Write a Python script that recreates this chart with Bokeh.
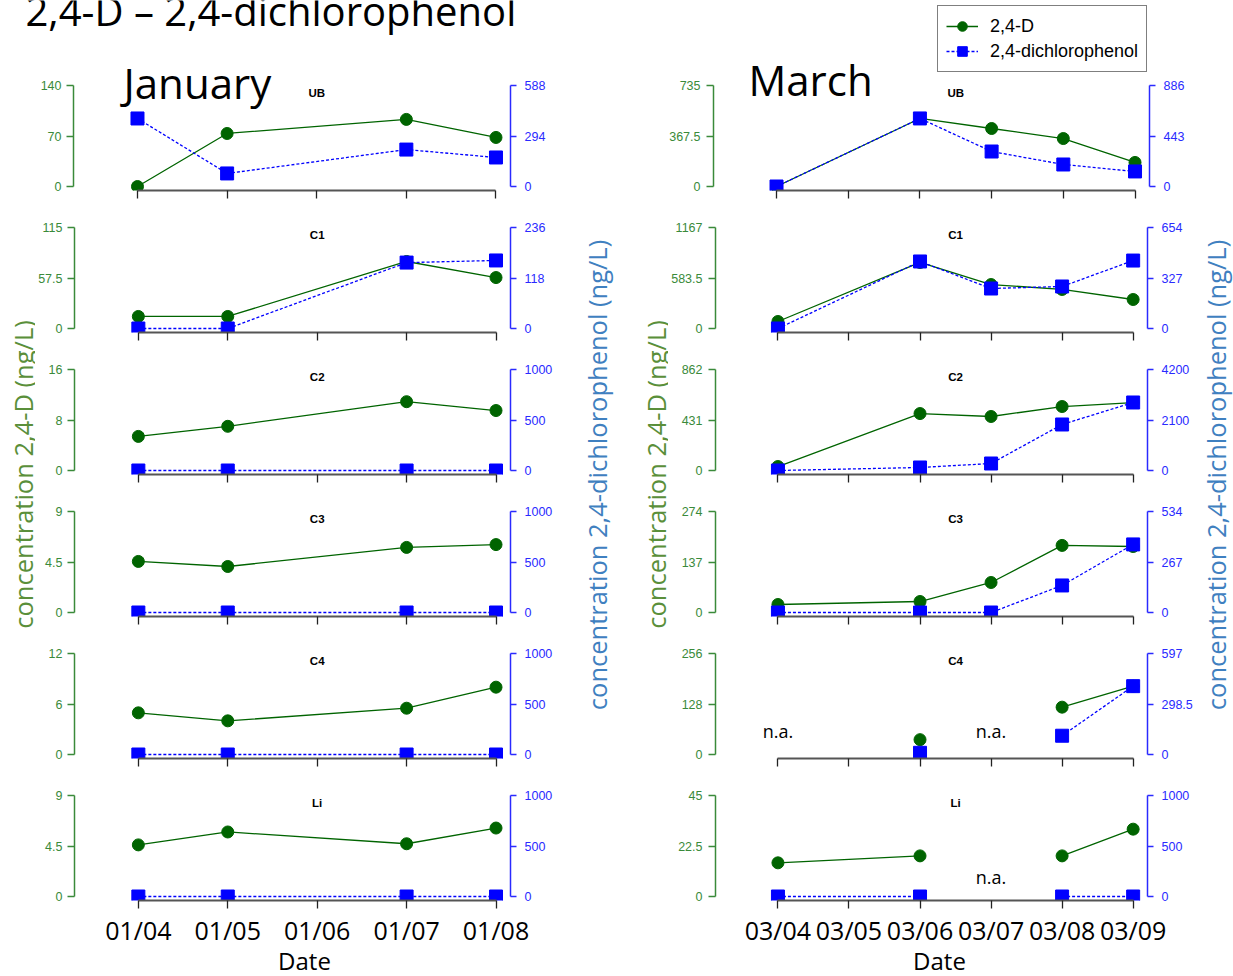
import numpy as np
from bokeh.plotting import figure
from bokeh.models import (Range1d, LinearAxis, FixedTicker, CustomJSTickFormatter,
                          Label, Legend, LegendItem, ColumnDataSource)
from bokeh.layouts import row, column
from bokeh.embed import file_html
from bokeh.resources import INLINE

NAN = float("nan")

# ---------------- data ----------------
sites = ["UB", "C1", "C2", "C3", "C4", "Li"]

jan_dates = ["01/04", "01/05", "01/06", "01/07", "01/08"]
jan_sampled = ["01/04", "01/05", "01/07", "01/08"]
mar_dates = ["03/04", "03/05", "03/06", "03/07", "03/08", "03/09"]
mar_sampled = ["03/04", "03/06", "03/07", "03/08", "03/09"]

# axis maxima (ticks are 0, max/2, max)
jan_d_max = [140, 115, 16, 9, 12, 9]
jan_p_max = [588, 236, 1000, 1000, 1000, 1000]
mar_d_max = [735, 1167, 862, 274, 256, 45]
mar_p_max = [886, 654, 4200, 534, 597, 1000]

# January, 2,4-D (ng/L)
jan_d_UB = [0, 73.5, 93, 68]
jan_d_C1 = [13.7, 13.7, 76.3, 58]
jan_d_C2 = [5.4, 7.0, 10.9, 9.5]
jan_d_C3 = [4.55, 4.1, 5.8, 6.05]
jan_d_C4 = [4.95, 4.0, 5.5, 8.0]
jan_d_Li = [4.6, 5.75, 4.7, 6.1]
# January, 2,4-dichlorophenol (ng/L)
jan_p_UB = [396, 76, 215, 169]
jan_p_C1 = [0, 0, 154, 159]
jan_p_C2 = [0, 0, 0, 0]
jan_p_C3 = [0, 0, 0, 0]
jan_p_C4 = [0, 0, 0, 0]
jan_p_Li = [0, 0, 0, 0]

# March, 2,4-D (ng/L)  (NaN = n.a.)
mar_d_UB = [0, 495, 422, 349, 175]
mar_d_C1 = [81, 763, 508, 451, 335]
mar_d_C2 = [34, 486, 461, 546, 580]
mar_d_C3 = [21.7, 29.8, 81.4, 182, 179]
mar_d_C4 = [NAN, 37.6, NAN, 120, 173]
mar_d_Li = [15.0, 18.1, NAN, 18.1, 30.0]
# March, 2,4-dichlorophenol (ng/L)
mar_p_UB = [0, 597, 307, 193, 132]
mar_p_C1 = [0, 434, 259, 272, 440]
mar_p_C2 = [0, 125, 291, 1913, 2828]
mar_p_C3 = [0, 0, 0, 143, 360]
mar_p_C4 = [NAN, 10, NAN, 111, 404]
mar_p_Li = [0, 0, NAN, 0, 0]

# n.a. annotations: (site, date)
mar_na = [("C4", "03/04"), ("C4", "03/07"), ("Li", "03/07")]

jan_d = [jan_d_UB, jan_d_C1, jan_d_C2, jan_d_C3, jan_d_C4, jan_d_Li]
jan_p = [jan_p_UB, jan_p_C1, jan_p_C2, jan_p_C3, jan_p_C4, jan_p_Li]
mar_d = [mar_d_UB, mar_d_C1, mar_d_C2, mar_d_C3, mar_d_C4, mar_d_Li]
mar_p = [mar_p_UB, mar_p_C1, mar_p_C2, mar_p_C3, mar_p_C4, mar_p_Li]

# ---------------- style ----------------
D_COL = "#006400"
P_COL = "#0000ff"
GREEN_AX = "#3a8a3a"
BLUE_AX = "#2a2aff"
BIG_GREEN = "#5a8f3a"
BIG_BLUE = "#3f80c0"
TICK_FONT = "Liberation Sans"
BIG_FONT = "Open Sans"

AX_PX = 101.0  # pixel length of each y axis (0 .. max)
fmt_code = "return tick.toString();"


def base_shift(size):
    # compensation for the label box placement of "alphabetic" baselines
    return 0.34 * size


def make_panel(i, dates, sampled, dvals, pvals, dmax, pmax, xr, width, height,
               bl, br, bt, bb, lstand, bottom):
    frame_h = height - bt - bb
    xs = [dates.index(s) for s in sampled]
    src = ColumnDataSource(dict(x=xs, d=np.array(dvals, dtype=float),
                                p=np.array(pvals, dtype=float)))
    lo, hi = -4.0 / AX_PX, (frame_h - 4.0) / AX_PX
    p = figure(width=width, height=height, x_range=Range1d(*xr),
               y_range=Range1d(lo * dmax, hi * dmax),
               output_backend="svg", toolbar_location=None,
               min_border_left=bl, min_border_right=br,
               min_border_top=bt, min_border_bottom=bb)
    p.extra_y_ranges = {"p": Range1d(lo * pmax, hi * pmax)}
    p.outline_line_color = None
    p.grid.visible = False

    ya = p.yaxis[0]
    ya.ticker = FixedTicker(ticks=[0, dmax / 2, dmax])
    ya.formatter = CustomJSTickFormatter(code=fmt_code)
    ya.bounds = (0, dmax)
    ya.axis_line_color = GREEN_AX
    ya.axis_line_width = 1.5
    ya.major_tick_line_color = GREEN_AX
    ya.major_tick_line_width = 1.5
    ya.major_tick_out = 7
    ya.major_tick_in = 0
    ya.minor_tick_line_color = None
    ya.major_label_text_color = GREEN_AX
    ya.major_label_text_font = TICK_FONT
    ya.major_label_text_font_size = "12.5px"
    ya.major_label_standoff = lstand

    ra = LinearAxis(y_range_name="p", ticker=FixedTicker(ticks=[0, pmax / 2, pmax]),
                    formatter=CustomJSTickFormatter(code=fmt_code), bounds=(0, pmax))
    ra.axis_line_color = BLUE_AX
    ra.axis_line_width = 1.5
    ra.major_tick_line_color = BLUE_AX
    ra.major_tick_line_width = 1.5
    ra.major_tick_out = 6
    ra.major_tick_in = 0
    ra.minor_tick_line_color = None
    ra.major_label_text_color = BLUE_AX
    ra.major_label_text_font = TICK_FONT
    ra.major_label_text_font_size = "12.5px"
    ra.major_label_standoff = 8
    p.add_layout(ra, "right")

    xa = p.xaxis[0]
    xa.ticker = FixedTicker(ticks=list(range(len(dates))))
    xa.major_label_overrides = {k: d for k, d in enumerate(dates)}
    xa.bounds = (0, len(dates) - 1)
    xa.axis_line_color = "#555555"
    xa.axis_line_width = 2
    xa.major_tick_line_color = "#222222"
    xa.major_tick_line_width = 1.3
    xa.major_tick_out = 8
    xa.major_tick_in = 0
    xa.minor_tick_line_color = None
    if bottom:
        xa.major_label_text_font = BIG_FONT
        xa.major_label_text_font_size = "25px"
        xa.major_label_text_color = "black"
        xa.major_label_standoff = 4
    else:
        xa.major_label_text_font_size = "1px"
        xa.major_label_text_color = None
        xa.major_label_standoff = 0

    lr = p.line("x", "d", source=src, color=D_COL, line_width=1.3)
    p.scatter("x", "d", source=src, marker="circle", size=12, color=D_COL)
    lb = p.line("x", "p", source=src, y_range_name="p", color=P_COL,
                line_width=1.3, line_dash="3 2")
    p.scatter("x", "p", source=src, y_range_name="p", marker="square",
              size=13, color=P_COL)

    p.add_layout(Label(x=(len(dates) - 1) / 2, y=97.5, x_units="data",
                       y_units="screen", text=sites[i], text_font=TICK_FONT,
                       text_font_style="bold", text_font_size="11.5px",
                       text_color="black", text_align="center", text_baseline="middle"))
    return p, lr, lb


def blank_fig(width, height):
    f = figure(width=width, height=height, x_range=Range1d(0, 1), y_range=Range1d(0, 1),
               output_backend="svg", toolbar_location=None, min_border=0,
               x_axis_type=None, y_axis_type=None)
    f.outline_line_color = None
    f.grid.visible = False
    return f


JAN_XR = (-0.714, 4.162)
MAR_XR = (-0.879, 5.202)

left_panels = []
right_panels = []
for i in range(6):
    if i == 0:
        lh, lbt, lbb = 175, 0, 20      # below the title strip (35 px)
        rh, rbt, rbb = 210, 0, 20
        lw, lbl, lbr = 557, 73, 47
        rw, rbl, rbr = 676, 156, 84
    elif i == 5:
        lh, lbt, lbb = 172, 13, 50
        rh, rbt, rbb = 172, 13, 50
        lw, lbl, lbr = 522, 38, 47
        rw, rbl, rbr = 527, 45, 46
    else:
        lh, lbt, lbb = 142, 13, 20
        rh, rbt, rbb = 142, 13, 20
        lw, lbl, lbr = 522, 38, 47
        rw, rbl, rbr = 527, 45, 46
    lp, _, _ = make_panel(i, jan_dates, jan_sampled, jan_d[i], jan_p[i],
                          jan_d_max[i], jan_p_max[i], JAN_XR, lw, lh, lbl, lbr, lbt, lbb,
                          5, i == 5)
    rp, rlr, rlb = make_panel(i, mar_dates, mar_sampled, mar_d[i], mar_p[i],
                              mar_d_max[i], mar_p_max[i], MAR_XR, rw, rh, rbl, rbr, rbt, rbb,
                              6, i == 5)
    left_panels.append(lp)
    right_panels.append(rp)
    if i == 0:
        lp.add_layout(Label(x=50, y=94 + base_shift(42), x_units="screen", y_units="screen",
                            text="January", text_font=BIG_FONT, text_color="black",
                            text_font_size="42px", text_baseline="alphabetic"))
        rp.add_layout(Label(x=35, y=97 + base_shift(42), x_units="screen", y_units="screen",
                            text="March", text_font=BIG_FONT, text_color="black",
                            text_font_size="42px", text_baseline="alphabetic"))
        # legend-only marker glyphs (smaller, as in the legend of the original)
        gd = rp.scatter(x=[NAN], y=[NAN], marker="circle", size=8, color=D_COL)
        bd = rp.scatter(x=[NAN], y=[NAN], marker="square", size=9, color=P_COL)
        legend = Legend(items=[LegendItem(label="2,4-D", renderers=[rlr, gd]),
                               LegendItem(label="2,4-dichlorophenol", renderers=[rlb, bd])],
                        location=(224, 118), label_text_font=TICK_FONT,
                        label_text_font_size="18px", label_text_color="black",
                        border_line_color="black",
                        border_line_width=1.2, padding=8, spacing=1, glyph_width=32,
                        glyph_height=24, label_standoff=12, margin=0,
                        background_fill_alpha=1.0)
        rp.add_layout(legend)

for site, date in mar_na:
    rp = right_panels[sites.index(site)]
    rp.add_layout(Label(x=mar_dates.index(date),
                        y=(21 if site == "C4" else 17) + base_shift(18),
                        x_units="data", y_units="screen", text="n.a.",
                        text_font=BIG_FONT, text_font_size="18px", text_color="black",
                        text_align="center", text_baseline="alphabetic"))

# title strip
title_fig = blank_fig(557, 35)
title_fig.add_layout(Label(x=25, y=11 + base_shift(40), x_units="screen", y_units="screen",
                           text="2,4-D \u2013 2,4-dichlorophenol", text_font=BIG_FONT,
                           text_color="black", text_font_size="40px",
                           text_baseline="alphabetic"))

# side label strips
LAB_H = 740


def label_fig(width, items):
    f = blank_fig(width, LAB_H)
    for x, y, text, color in items:
        f.add_layout(Label(x=x, y=y, x_units="screen", y_units="screen", text=text,
                           angle=np.pi / 2, text_align="center", text_baseline="middle",
                           text_font=BIG_FONT, text_font_size="25.5px", text_color=color))
    return f


lab_d = "concentration 2,4-D (ng/L)"
lab_p = "concentration 2,4-dichlorophenol (ng/L)"
labL = label_fig(35, [(22, 476, lab_d, BIG_GREEN)])
labM = label_fig(111, [(39, 475.5, lab_p, BIG_BLUE), (98, 476, lab_d, BIG_GREEN)])
labR = label_fig(38, [(20, 475.5, lab_p, BIG_BLUE)])

# "Date" strip
date_fig = blank_fig(1233, 26)
for xc in (304, 939):
    date_fig.add_layout(Label(x=xc, y=8 + base_shift(24), x_units="screen", y_units="screen",
                              text="Date", text_font=BIG_FONT, text_font_size="24px",
                              text_color="black", text_align="center",
                              text_baseline="alphabetic"))

layout = column(
    row(column(row(title_fig), left_panels[0]), right_panels[0]),
    row(labL, column(*left_panels[1:]), labM, column(*right_panels[1:]), labR),
    date_fig,
)

open("out.html", "w").write(file_html(layout, INLINE))
